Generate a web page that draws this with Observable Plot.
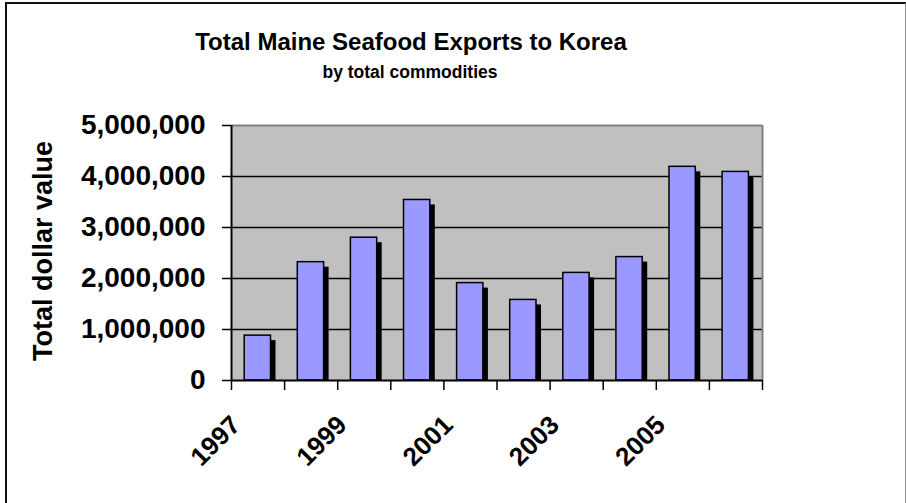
<!DOCTYPE html>
<html>
<head>
<meta charset="utf-8">
<script src="https://cdn.jsdelivr.net/npm/d3@7"></script>
<script src="https://cdn.jsdelivr.net/npm/@observablehq/plot@0.6"></script>
<style>
  html, body { margin: 0; padding: 0; background: #fff; }
  #wrap { position: relative; width: 906px; height: 503px; overflow: hidden; background: #fff;
          font-family: 'Liberation Sans', Arial, sans-serif; }
  #head { position: relative; height: 100px; }
  #title { position: absolute; left: 0; top: 30px; width: 822px; text-align: center;
           font-weight: bold; font-size: 24px; line-height: 24px; color: #000; white-space: nowrap; }
  #subtitle { position: absolute; left: 0; top: 64px; width: 820px; text-align: center;
              font-weight: bold; font-size: 17.5px; line-height: 17px; color: #000; white-space: nowrap; }
  #frame { position: absolute; left: 5px; top: 2px; width: 901px; height: 600px; box-sizing: border-box;
           border-left: 2px solid #111; border-top: 2px solid #111; border-right: 1px solid #888; pointer-events: none; }
  #chart svg { display: block; }
</style>
</head>
<body>
<div id="wrap">
  <div id="head">
    <div id="title">Total Maine Seafood Exports to Korea</div>
    <div id="subtitle">by total commodities</div>
  </div>
  <div id="chart"></div>
  <div id="frame"></div>
</div>
<script>
// Data
const years = [1997, 1998, 1999, 2000, 2001, 2002, 2003, 2004, 2005, 2006];
const values = [880000, 2320000, 2800000, 3540000, 1910000, 1580000, 2110000, 2420000, 4190000, 4090000];
const yTicks = [0, 1000000, 2000000, 3000000, 4000000, 5000000];
const xBoundaries = [1997, 1998, 1999, 2000, 2001, 2002, 2003, 2004, 2005, 2006, 2007];
const xLabelYears = [1997, 1999, 2001, 2003, 2005];
const yLabel = "Total dollar value";

const data = years.map((year, i) => ({year, value: values[i]}));
const yMax = yTicks[yTicks.length - 1];
const xMin = xBoundaries[0];
const xMax = xBoundaries[xBoundaries.length - 1];

const font = "'Liberation Sans', Arial, sans-serif";

const chart = Plot.plot({
  width: 906,
  height: 403,
  marginTop: 25,
  marginLeft: 231,
  marginRight: 144,
  marginBottom: 123,
  x: {type: "linear", domain: [xMin, xMax]},
  y: {domain: [0, yMax]},
  style: {fontFamily: font, fontWeight: "bold", color: "#000", background: "transparent", overflow: "visible"},
  marks: [
    Plot.frame({fill: "#C0C0C0", stroke: null}),
    Plot.ruleY(yTicks.filter(v => v > 0 && v < yMax), {stroke: "#000", strokeWidth: 1.7}),
    Plot.ruleY([yMax], {stroke: "#808080", strokeWidth: 2}),
    Plot.ruleX([xMax], {stroke: "#808080", strokeWidth: 2}),
    // shadows
    Plot.rect(data, {
      x1: d => d.year, x2: d => d.year + 1, y1: d => 0, y2: d => d.value,
      insetLeft: 13.2, insetRight: 13.6, insetTop: 5, dx: 5, fill: "#000"
    }),
    // bars
    Plot.rect(data, {
      x1: d => d.year, x2: d => d.year + 1, y1: d => 0, y2: d => d.value,
      insetLeft: 13.2, insetRight: 13.6, fill: "#9999FF", stroke: "#000", strokeWidth: 1.5
    }),
    Plot.ruleX([xMin], {stroke: "#000", strokeWidth: 2}),
    Plot.ruleY([0], {stroke: "#000", strokeWidth: 2}),
    Plot.axisY({
      ticks: yTicks, tickFormat: d3.format(","), tickSize: 9, tickPadding: 17,
      fontSize: 28, fontWeight: "bold", label: null, stroke: "#000", strokeWidth: 1.5
    }),
    Plot.axisX({
      ticks: xBoundaries, tickSize: 10, tickFormat: () => "", label: null,
      stroke: "#000", strokeWidth: 1.5
    }),
    Plot.text(xLabelYears, {
      x: d => d + 0.5, frameAnchor: "bottom", text: d => String(d),
      rotate: -45, textAnchor: "end", dx: -16, dy: 46,
      fontSize: 26, fontWeight: "bold", fill: "#000"
    }),
    Plot.text([yLabel], {
      text: d => d, frameAnchor: "left", rotate: -90, textAnchor: "middle", dx: -188, dy: -2,
      fontSize: 27, fontWeight: "bold", fill: "#000"
    })
  ]
});
document.getElementById("chart").appendChild(chart);
</script>
</body>
</html>
